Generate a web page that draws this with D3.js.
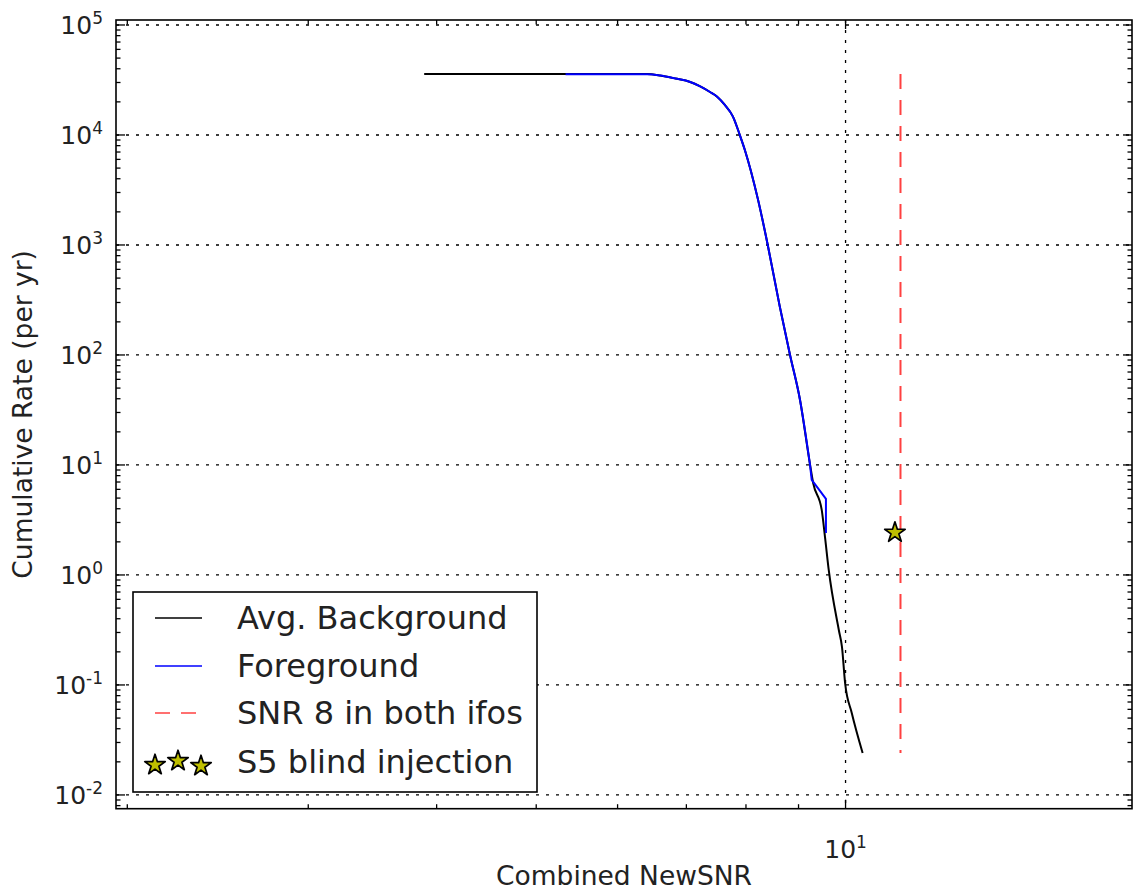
<!DOCTYPE html>
<meta charset="utf-8">
<style>
body { margin: 0; background: #fff; }
svg { font-family: "DejaVu Sans", sans-serif; }
.grid line { stroke: #000; stroke-width: 1.3; stroke-dasharray: 3,7; }
</style>
<body>
<div id="chart"></div>
<script src="https://d3js.org/d3.v7.min.js"></script>
<script>

// background (time slides) cumulative rate
var bgSNR  = [3.89, 6.41, 6.60, 6.83, 7.06, 7.22, 7.38, 7.50, 7.63, 7.77, 7.89, 7.98, 8.22, 8.40, 8.63, 8.83, 9.03, 9.23, 9.30, 9.48, 9.55, 9.63, 9.85, 9.92, 9.99, 10.14, 10.39];
var bgRate = [35800, 35800, 34750, 32630, 30350, 27620, 24600, 22300, 18740, 14700, 10000, 7310, 2570, 1000, 275, 100, 39, 10.4, 6.85, 3.90, 2.21, 1.11, 0.316, 0.222, 0.104, 0.0556, 0.0241];

// foreground (zero lag)
var fgSNR  = [5.34, 6.41, 6.60, 6.83, 7.06, 7.22, 7.38, 7.50, 7.63, 7.77, 7.89, 7.98, 8.22, 8.40, 8.63, 8.83, 9.03, 9.23, 9.27, 9.57, 9.57];
var fgRate = [35600, 35600, 34750, 32630, 30350, 27620, 24600, 22300, 18740, 14700, 10000, 7310, 2570, 1000, 275, 100, 39, 10.4, 7.31, 4.91, 2.41];

// SNR 8 in both ifos -> sqrt(2)*8
var snrLine = [11.31];

// blind injection
var injSNR  = [11.17];
var injRate = [2.43];

var legendLabels = ["Avg. Background", "Foreground", "SNR 8 in both ifos", "S5 blind injection"];

var width = 1133, height = 890;
var pL = 116, pR = 1132, pT = 20, pB = 808.7;

var svg = d3.select("#chart").append("svg")
    .attr("width", width)
    .attr("height", height);

var x = d3.scaleLog().domain([1.95, 19]).range([pL, pR]);
var y = d3.scaleLog().domain([0.0075, 1.11e5]).range([pB, pT]);

var xMajor = [10];
var yMajor = d3.range(-2, 6).map(function(e) { return Math.pow(10, e); });

function minors(scale, lo, hi) {
    var out = [];
    var d = scale.domain();
    for (var e = lo; e <= hi; e++) {
        for (var m = 2; m <= 9; m++) {
            var v = m * Math.pow(10, e);
            if (v > d[0] && v < d[1]) out.push(v);
        }
    }
    return out;
}
var xMinor = minors(x, 0, 1);
var yMinor = minors(y, -3, 5);

// grid
var grid = svg.append("g").attr("class", "grid");
grid.selectAll(".gy").data(yMajor).enter().append("line")
    .attr("x1", pL).attr("x2", pR)
    .attr("y1", function(d) { return y(d); })
    .attr("y2", function(d) { return y(d); });
grid.selectAll(".gx").data(xMajor).enter().append("line")
    .attr("y1", pT).attr("y2", pB)
    .attr("x1", function(d) { return x(d); })
    .attr("x2", function(d) { return x(d); });

// curves
var smooth = d3.line()
    .curve(d3.curveMonotoneX)
    .x(function(d) { return x(d[0]); })
    .y(function(d) { return y(d[1]); });
var straight = d3.line()
    .x(function(d) { return x(d[0]); })
    .y(function(d) { return y(d[1]); });

svg.append("path")
    .datum(d3.zip(bgSNR, bgRate))
    .attr("d", smooth)
    .attr("fill", "none")
    .attr("stroke", "#000")
    .attr("stroke-width", 2)
    .attr("stroke-linejoin", "round");

// foreground: smooth body, then the last few events joined straight
var fgPts = d3.zip(fgSNR, fgRate);
var cut = 17;
svg.append("path")
    .attr("d", smooth(fgPts.slice(0, cut + 1)) + straight(fgPts.slice(cut)).replace(/^M/, "L"))
    .attr("fill", "none")
    .attr("stroke", "#0000ff")
    .attr("stroke-width", 2)
    .attr("stroke-linejoin", "miter");

var bgExt = d3.extent(bgRate);
svg.selectAll(".snr8").data(snrLine).enter().append("line")
    .attr("x1", function(d) { return x(d); })
    .attr("x2", function(d) { return x(d); })
    .attr("y1", y(bgExt[1]))
    .attr("y2", y(bgExt[0]))
    .attr("stroke", "#ff0000")
    .attr("stroke-opacity", 0.75)
    .attr("stroke-width", 2)
    .attr("stroke-dasharray", "15,11");

var star = d3.symbol().type(d3.symbolStar).size(130);
svg.selectAll(".inj").data(d3.zip(injSNR, injRate)).enter().append("path")
    .attr("d", star)
    .attr("transform", function(d) { return "translate(" + x(d[0]) + "," + y(d[1]) + ")"; })
    .attr("fill", "#bfbf00")
    .attr("stroke", "#000")
    .attr("stroke-width", 1.7)
    .attr("stroke-linejoin", "round");

// ticks on all four sides, pointing in
var ticks = svg.append("g").attr("stroke", "#000").attr("stroke-width", 1.3);
function hTicks(vals, len) {
    vals.forEach(function(v) {
        ticks.append("line").attr("x1", pL).attr("x2", pL + len).attr("y1", y(v)).attr("y2", y(v));
        ticks.append("line").attr("x1", pR).attr("x2", pR - len).attr("y1", y(v)).attr("y2", y(v));
    });
}
function vTicks(vals, len) {
    vals.forEach(function(v) {
        ticks.append("line").attr("y1", pB).attr("y2", pB - len).attr("x1", x(v)).attr("x2", x(v));
        ticks.append("line").attr("y1", pT).attr("y2", pT + len).attr("x1", x(v)).attr("x2", x(v));
    });
}
hTicks(yMajor, 9); hTicks(yMinor, 4.5);
vTicks(xMajor, 9); vTicks(xMinor, 4.5);

// frame
svg.append("rect")
    .attr("x", pL).attr("y", pT)
    .attr("width", pR - pL).attr("height", pB - pT)
    .attr("fill", "none").attr("stroke", "#000").attr("stroke-width", 1.6);

// tick labels
var yl = svg.selectAll(".ylab").data(yMajor).enter().append("text")
    .attr("x", 103)
    .attr("y", function(d) { return y(d) + 9.5; })
    .attr("text-anchor", "end")
    .attr("font-size", 25)
    .attr("fill", "#222");
yl.append("tspan").text("10");
yl.append("tspan").attr("dy", -10).attr("font-size", 17)
    .text(function(d) { return Math.round(Math.log10(d)); });

var xl = svg.selectAll(".xlab").data(xMajor).enter().append("text")
    .attr("x", function(d) { return x(d); })
    .attr("y", 858)
    .attr("text-anchor", "middle")
    .attr("font-size", 25)
    .attr("fill", "#222");
xl.append("tspan").text("10");
xl.append("tspan").attr("dy", -10).attr("font-size", 17)
    .text(function(d) { return Math.round(Math.log10(d)); });

// axis titles
svg.append("text")
    .attr("x", (pL + pR) / 2).attr("y", 885)
    .attr("text-anchor", "middle")
    .attr("font-size", 26.5)
    .attr("fill", "#222")
    .text("Combined NewSNR");

svg.append("text")
    .attr("transform", "translate(32," + ((pT + pB) / 2) + ") rotate(-90)")
    .attr("text-anchor", "middle")
    .attr("font-size", 26.5)
    .attr("fill", "#222")
    .text("Cumulative Rate (per yr)");

// legend
var leg = svg.append("g");
leg.append("rect")
    .attr("x", 133).attr("y", 592)
    .attr("width", 404).attr("height", 200)
    .attr("fill", "#fff").attr("stroke", "#000").attr("stroke-width", 1.6);

var rowY = [618, 666, 713, 762];
leg.selectAll(".lt").data(legendLabels).enter().append("text")
    .attr("x", 237)
    .attr("y", function(d, i) { return rowY[i] + 11; })
    .attr("font-size", 32)
    .attr("fill", "#222")
    .text(function(d) { return d; });

leg.append("line").attr("x1", 155).attr("x2", 202).attr("y1", rowY[0]).attr("y2", rowY[0])
    .attr("stroke", "#000").attr("stroke-width", 1.5);
leg.append("line").attr("x1", 155).attr("x2", 202).attr("y1", rowY[1]).attr("y2", rowY[1])
    .attr("stroke", "#0000ff").attr("stroke-width", 1.5);
leg.append("line").attr("x1", 155).attr("x2", 202).attr("y1", rowY[2]).attr("y2", rowY[2])
    .attr("stroke", "#ff0000").attr("stroke-opacity", 0.75).attr("stroke-width", 1.5)
    .attr("stroke-dasharray", "15,11");

var legStars = [[155, 3], [178, -1], [201, 4]];
leg.selectAll(".ls").data(legStars).enter().append("path")
    .attr("d", star)
    .attr("transform", function(d) { return "translate(" + d[0] + "," + (rowY[3] + d[1]) + ")"; })
    .attr("fill", "#bfbf00")
    .attr("stroke", "#000")
    .attr("stroke-width", 1.7)
    .attr("stroke-linejoin", "round");

</script>
</body>
